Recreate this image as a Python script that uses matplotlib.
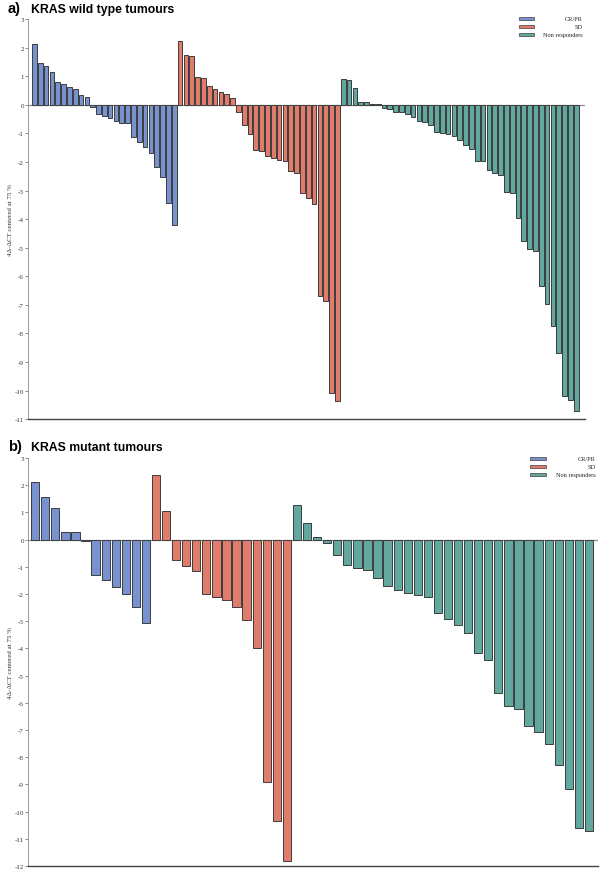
import matplotlib
matplotlib.use("Agg")
import matplotlib.pyplot as plt
from matplotlib.patches import Rectangle
import numpy as np

plt.rcParams["axes.unicode_minus"] = False

# values (4Δ-ΔCT centered at 75 %)
wt_crpr = [2.11, 1.47, 1.34, 1.14, 0.79, 0.73, 0.63, 0.55, 0.34, 0.28,
           -0.08, -0.33, -0.40, -0.47, -0.56, -0.63, -0.65, -1.13, -1.31,
           -1.46, -1.69, -2.19, -2.52, -3.43, -4.22]
wt_sd = [2.24, 1.75, 1.70, 0.98, 0.92, 0.64, 0.54, 0.43, 0.37, 0.23,
         -0.24, -0.71, -1.04, -1.57, -1.62, -1.79, -1.85, -1.94, -1.98,
         -2.30, -2.37, -3.10, -3.27, -3.48, -6.68, -6.85, -10.09, -10.38]
wt_nr = [0.90, 0.86, 0.57, 0.09, 0.09, 0.01, 0.01, -0.13, -0.16, -0.24,
         -0.24, -0.33, -0.43, -0.56, -0.62, -0.71, -0.96, -1.00, -1.04,
         -1.10, -1.24, -1.40, -1.54, -1.97, -1.97, -2.28, -2.39, -2.45,
         -3.04, -3.08, -3.96, -4.76, -5.04, -5.12, -6.33, -6.98, -7.75,
         -8.67, -10.20, -10.33, -10.71]

mut_crpr = [2.11, 1.58, 1.15, 0.29, 0.28, -0.06, -1.29, -1.47, -1.75,
            -1.99, -2.49, -3.08]
mut_sd = [2.39, 1.06, -0.76, -0.96, -1.15, -2.00, -2.10, -2.22, -2.47,
          -2.94, -3.97, -8.91, -10.34, -11.81]
mut_nr = [1.27, 0.62, 0.10, -0.12, -0.57, -0.93, -1.05, -1.11, -1.42,
          -1.70, -1.84, -1.95, -2.05, -2.11, -2.69, -2.92, -3.13, -3.43,
          -4.18, -4.44, -5.65, -6.12, -6.23, -6.84, -7.09, -7.53, -8.29,
          -9.17, -10.61, -10.72]

groups = ["CR/PR", "SD", "Non responders"]
colors = ["#7792cf", "#e07c6c", "#63a89f"]
ylabel = "4Δ-ΔCT centered at 75 %"


def draw_panel(ax, series, ymin, width):
    vals = np.concatenate(series)
    cols = np.concatenate([[c] * len(s) for c, s in zip(colors, series)])
    x = np.arange(len(vals))
    ax.axhline(0, color="#8c8c8c", lw=0.9, zorder=1)
    ax.bar(x, vals, width=width, color=cols, edgecolor="#3c3c3c",
           linewidth=0.7, zorder=2)
    ax.set_ylim(ymin, 3)
    ax.set_yticks(range(ymin, 4))
    ax.set_xticks([])
    for s in ["top", "right"]:
        ax.spines[s].set_visible(False)
    ax.spines["left"].set_color("#9a9a9a")
    ax.spines["left"].set_linewidth(0.7)
    ax.spines["bottom"].set_color("#444444")
    ax.spines["bottom"].set_linewidth(1.0)
    ax.tick_params(axis="y", length=2, width=0.6, color="#777777",
                   labelsize=5, pad=1, labelcolor="#333333")
    for t in ax.get_yticklabels():
        t.set_fontfamily("Liberation Serif")
    ax.set_ylabel(ylabel, fontsize=5, family="Liberation Serif",
                  color="#333333", labelpad=1)


def draw_legend(ax, ys):
    for g, c, yy in zip(groups, colors, ys):
        ax.add_patch(Rectangle((0.881, yy - 0.004), 0.028, 0.008,
                               transform=ax.transAxes, facecolor=c,
                               edgecolor="#3c3c3c", lw=0.5, clip_on=False))
        ax.text(0.995, yy, g, transform=ax.transAxes, ha="right",
                va="center", fontsize=4.5, family="Liberation Serif",
                color="#222222")


fig = plt.figure(figsize=(6, 8.7), dpi=100)

ax1 = fig.add_axes([0.0467, 0.517, 0.9283, 0.460])
draw_panel(ax1, [wt_crpr, wt_sd, wt_nr], -11, 0.8)
n1 = len(wt_crpr) + len(wt_sd) + len(wt_nr)
ax1.set_xlim(-1.1, n1 - 1 + 1.5)
draw_legend(ax1, [1.0018, 0.982, 0.962])

ax2 = fig.add_axes([0.0467, 0.0034, 0.9500, 0.469])
draw_panel(ax2, [mut_crpr, mut_sd, mut_nr], -12, 0.82)
n2 = len(mut_crpr) + len(mut_sd) + len(mut_nr)
ax2.set_xlim(-0.71, n2 - 1 + 0.9)
draw_legend(ax2, [0.999, 0.979, 0.959])

for ypos, lab, txt in [(0.985, "a)", "KRAS wild type tumours"),
                       (0.482, "b)", "KRAS mutant tumours")]:
    fig.text(0.013, ypos, lab, fontsize=10.5, weight="bold",
             family="Liberation Sans", va="baseline")
    fig.text(0.052, ypos, txt, fontsize=8.8, weight="bold",
             family="Liberation Sans", va="baseline")

fig.savefig("out.png", dpi=100)
